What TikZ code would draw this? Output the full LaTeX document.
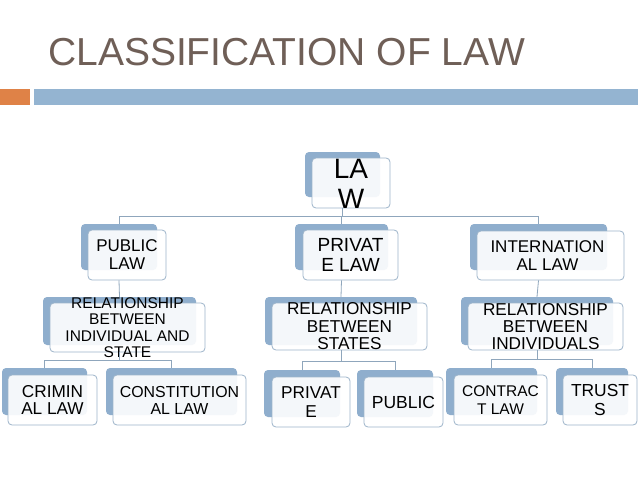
\documentclass[tikz,border=0pt]{standalone}
\usepackage{fontspec}
\setmainfont{Liberation Sans}
\usetikzlibrary{fit,calc}
\definecolor{titlec}{HTML}{6F5F57}
\definecolor{barorange}{HTML}{DF8247}
\definecolor{barblue}{HTML}{94B4D1}
\definecolor{backblue}{HTML}{8FAECD}
\definecolor{edgeblue}{HTML}{9DB4CA}
\definecolor{connc}{HTML}{8FA6BC}
\begin{document}
\begin{tikzpicture}[x=1pt,y=-1pt,
  backbox/.style={fill=backblue, draw=none, rounded corners=4pt, inner sep=0pt},
  frontbox/.style={fill=white, fill opacity=0.9, draw=edgeblue, draw opacity=1, line width=0.8pt, rounded corners=4pt, inner sep=0pt},
  txt/.style={inner sep=0pt, align=center, text=black},
  conn/.style={draw=connc, line width=0.8pt}]
\useasboundingbox (0,0) rectangle (638,479);
\fill[white] (0,0) rectangle (638,479);

% title and bars
\node[anchor=base west, inner sep=0pt, text=titlec, font=\fontsize{39}{41}\selectfont] (title) at (48,65.5) {CLASSIFICATION OF LAW};
\node[fill=barorange, inner sep=0pt, fit={(0,89) (30,105)}] (barO) {};
\node[fill=barblue, inner sep=0pt, fit={(34,89) (638,105)}] (barB) {};

% level 0
\node[backbox, fit={(305,152) (380,197)}] (lawB) {};
\node[frontbox, fit={(312,158) (390,208)}] (lawF) {};
\node[txt, font=\fontsize{28}{30}\selectfont] (lawT) at ($(lawF)+(0,1)$) {LA\\W};

% level 1
\node[backbox, fit={(81,224) (157,270)}] (pubB) {};
\node[frontbox, fit={(88,230) (166,280)}] (pubF) {};
\node[txt, font=\fontsize{17}{18}\selectfont] (pubT) at (pubF) {PUBLIC\\LAW};

\node[backbox, fit={(295,224) (388,270)}] (prvB) {};
\node[frontbox, fit={(303,230) (398,280)}] (prvF) {};
\node[txt, font=\fontsize{19}{20}\selectfont] (prvT) at (prvF) {PRIVAT\\E LAW};

\node[backbox, fit={(470,224) (607,270)}] (intB) {};
\node[frontbox, fit={(477,231) (624,280)}] (intF) {};
\node[txt, font=\fontsize{17}{17.5}\selectfont] (intT) at ($(intF)+(-3,0)$) {INTERNATION\\AL LAW};

% level 2
\node[backbox, fit={(43,297) (196,345)}] (relpB) {};
\node[frontbox, fit={(50,303) (205,352)}] (relpF) {};
\node[txt, font=\fontsize{15.5}{16.4}\selectfont] (relpT) at (relpF) {RELATIONSHIP\\BETWEEN\\INDIVIDUAL AND\\STATE};

\node[backbox, fit={(265,297) (417,345)}] (relsB) {};
\node[frontbox, fit={(272,303) (427,350)}] (relsF) {};
\node[txt, font=\fontsize{17.2}{17.5}\selectfont] (relsT) at (relsF) {RELATIONSHIP\\BETWEEN\\STATES};

\node[backbox, fit={(461,297) (613,345)}] (reliB) {};
\node[frontbox, fit={(468,303) (623,350)}] (reliF) {};
\node[txt, font=\fontsize{17.2}{16.8}\selectfont] (reliT) at (reliF) {RELATIONSHIP\\BETWEEN\\INDIVIDUALS};

% level 3
\node[backbox, fit={(2,368) (87,415)}] (crimB) {};
\node[frontbox, fit={(8,375) (97,425)}] (crimF) {};
\node[txt, font=\fontsize{17.2}{17.5}\selectfont] (crimT) at (crimF) {CRIMIN\\AL LAW};

\node[backbox, fit={(106,368) (237,415)}] (consB) {};
\node[frontbox, fit={(113,375) (246,425)}] (consF) {};
\node[txt, font=\fontsize{15.9}{17}\selectfont] (consT) at (consF) {CONSTITUTION\\AL LAW};

\node[backbox, fit={(264,370) (340,417)}] (pvB) {};
\node[frontbox, fit={(272,377) (350,427)}] (pvF) {};
\node[txt, font=\fontsize{17.2}{19.5}\selectfont] (pvT) at (pvF) {PRIVAT\\E};

\node[backbox, fit={(357,370) (433,417)}] (pbB) {};
\node[frontbox, fit={(364,377) (443,427)}] (pbF) {};
\node[txt, font=\fontsize{17.5}{19}\selectfont] (pbT) at (pbF) {PUBLIC};

\node[backbox, fit={(446,368) (537,415)}] (conB) {};
\node[frontbox, fit={(454,375) (547,425)}] (conF) {};
\node[txt, font=\fontsize{15.5}{18.5}\selectfont] (conT) at (conF) {CONTRAC\\T LAW};

\node[backbox, fit={(556,368) (628,415)}] (truB) {};
\node[frontbox, fit={(563,375) (637,425)}] (truF) {};
\node[txt, font=\fontsize{17.4}{19}\selectfont] (truT) at (truF) {TRUST\\S};

% connectors
\coordinate (bus1) at ($(lawF.south)!0.5!(prvB.north)$);
\draw[conn] (lawB.center |- lawF.south) -- (lawB.center |- bus1);
\draw[conn] (pubB.north) -- (pubB.north |- bus1) -- (intB.north |- bus1) -- (intB.north);
\draw[conn] (prvB.north) -- (prvB.north |- bus1);

\draw[conn] (pubB.center |- pubF.south) -- (relpB.north);
\draw[conn] (prvB.center |- prvF.south) -- (relsB.north);
\draw[conn] (intB.center |- intF.south) -- (reliB.north);

\coordinate (bus2) at ($(relpF.south)!0.5!(crimB.north)$);
\draw[conn] (relpB.center |- relpF.south) -- (relpB.center |- bus2);
\draw[conn] (crimB.north) -- (crimB.north |- bus2) -- (consB.north |- bus2) -- (consB.north);

\coordinate (bus3) at ($(relsF.south)!0.55!(pvB.north)$);
\draw[conn] (relsB.center |- relsF.south) -- (relsB.center |- bus3);
\draw[conn] (pvB.north) -- (pvB.north |- bus3) -- (pbB.north |- bus3) -- (pbB.north);

\coordinate (bus4) at ($(reliF.south)!0.5!(conB.north)$);
\draw[conn] (reliB.center |- reliF.south) -- (reliB.center |- bus4);
\draw[conn] (conB.north) -- (conB.north |- bus4) -- (truB.north |- bus4) -- (truB.north);
\end{tikzpicture}
\end{document}
